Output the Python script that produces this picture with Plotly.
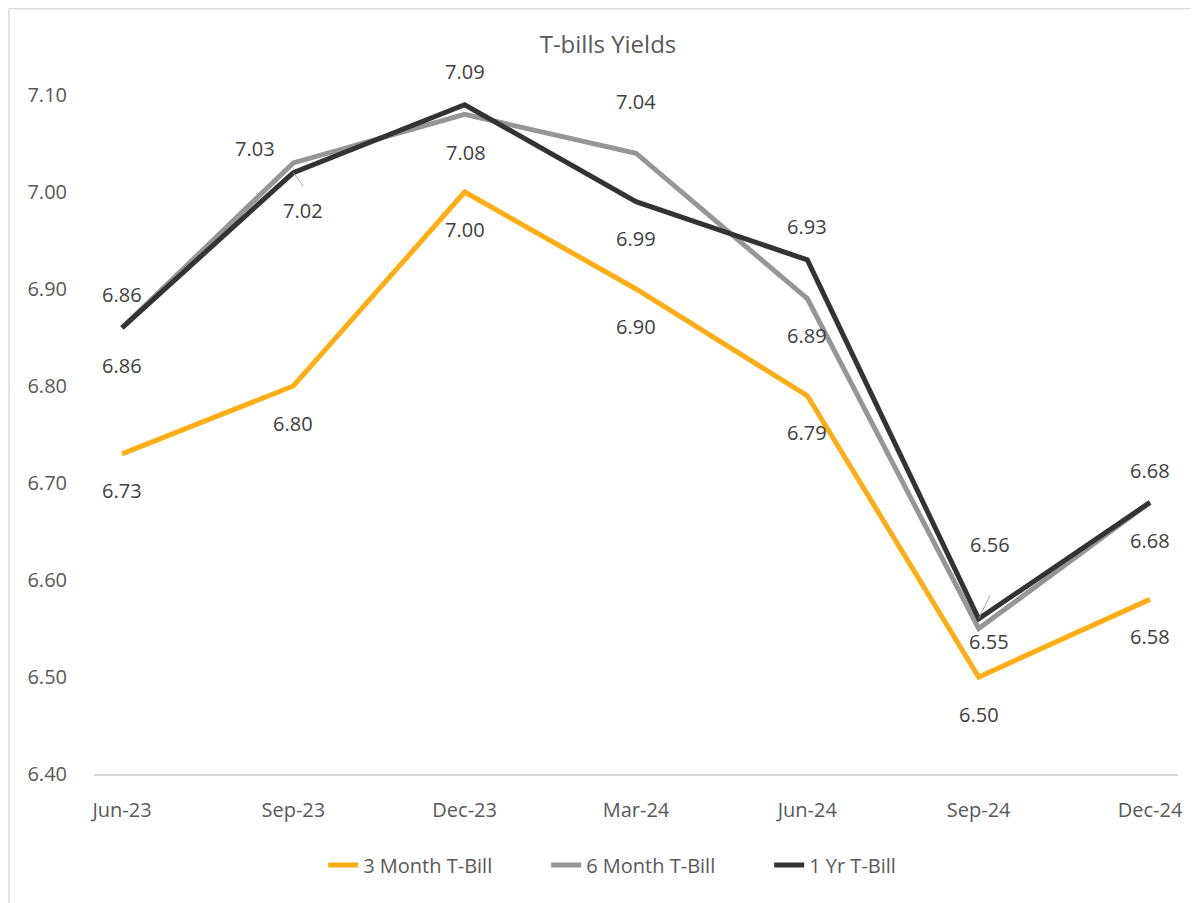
import plotly.graph_objects as go

categories = ["Jun-23", "Sep-23", "Dec-23", "Mar-24", "Jun-24", "Sep-24", "Dec-24"]
three_month = [6.73, 6.80, 7.00, 6.90, 6.79, 6.50, 6.58]
six_month = [6.86, 7.03, 7.08, 7.04, 6.89, 6.55, 6.68]
one_year = [6.86, 7.02, 7.09, 6.99, 6.93, 6.56, 6.68]
y_ticks = [6.40, 6.50, 6.60, 6.70, 6.80, 6.90, 7.00, 7.10]

# label offsets in pixels (dx, dy downward)
off_3m = [(0, 37)] * 7
off_6m = [(0, -33), (-38, -14), (1, 38), (0, -52), (0, 37), (10, 13), (0, 38)]
off_1y = [(0, 38), (10, 38), (0, -33), (0, 37), (0, -33), (11, -74), (0, -32)]
leaders_1y = {1: (11, 15), 5: (12, -25)}

FONT = "Open Sans"
series = [
    ("3 Month T-Bill", three_month, "#FFAD14", off_3m),
    ("6 Month T-Bill", six_month, "#969696", off_6m),
    ("1 Yr T-Bill", one_year, "#333333", off_1y),
]

fig = go.Figure()
annotations = []
for name, vals, color, offs in series:
    fig.add_trace(go.Scatter(
        x=categories, y=vals, mode="lines", name=name,
        line=dict(color=color, width=5),
    ))
    for c, v, (dx, dy) in zip(categories, vals, offs):
        annotations.append(dict(
            x=c, y=v, text=f"{v:.2f}", showarrow=False,
            xshift=dx, yshift=-dy,
            font=dict(family=FONT, size=20, color="#404040"),
        ))

for i, (ax, ay) in leaders_1y.items():
    annotations.append(dict(
        x=categories[i], y=one_year[i], text="", showarrow=True,
        arrowhead=0, arrowwidth=1, arrowcolor="#A6A6A6",
        ax=ax, ay=ay, standoff=0,
    ))

fig.update_layout(
    width=1199, height=903,
    margin=dict(l=86, r=29, t=87, b=137),
    paper_bgcolor="white", plot_bgcolor="white",
    font=dict(family=FONT, size=20, color="#595959"),
    title=dict(text="T-bills Yields", x=0.5004, xanchor="center",
               y=0.959, yanchor="middle",
               font=dict(family=FONT, size=24, color="#595959")),
    xaxis=dict(
        type="category", range=[-0.1634, 6.1634],
        showgrid=False, zeroline=False,
        showline=True, linecolor="#D9D9D9", linewidth=1.5,
        ticks="", ticklabelstandoff=17,
        tickfont=dict(family=FONT, size=20, color="#595959"),
    ),
    yaxis=dict(
        range=[6.40, 7.10], tickvals=y_ticks,
        ticktext=[f"{t:.2f}" for t in y_ticks],
        showgrid=False, zeroline=False, showline=False,
        ticks="", ticklabelstandoff=26,
        tickfont=dict(family=FONT, size=20, color="#595959"),
    ),
    legend=dict(
        orientation="h", x=0.52, xanchor="center",
        y=-0.134, yanchor="middle",
        entrywidth=178, entrywidthmode="pixels",
        font=dict(family=FONT, size=20, color="#595959"),
    ),
    annotations=annotations,
    shapes=[dict(
        type="rect", xref="paper", yref="paper",
        x0=-0.0784, x1=1.2, y0=-0.4, y1=1.1274,
        line=dict(color="#D9D9D9", width=1.5), layer="below",
    )],
)

fig.write_html("out.html")
